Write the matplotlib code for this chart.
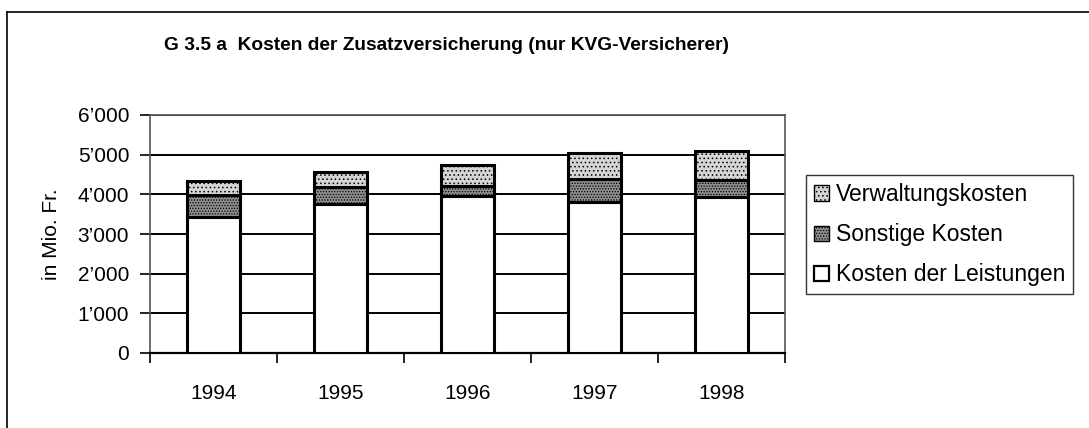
import matplotlib
matplotlib.use("Agg")
import matplotlib.pyplot as plt
from matplotlib.patches import Rectangle
from matplotlib.lines import Line2D
import numpy as np

plt.rcParams['font.family'] = ['Liberation Sans', 'DejaVu Sans']
plt.rcParams['hatch.linewidth'] = 0.6
plt.rcParams['hatch.color'] = '#333333'

years = ["1994", "1995", "1996", "1997", "1998"]
leistungen = [3430, 3750, 3970, 3800, 3945]
sonstige = [560, 430, 250, 590, 420]
verwaltung = [350, 395, 525, 650, 715]
yticks = [0, 1000, 2000, 3000, 4000, 5000, 6000]
ytick_labels = ["0", "1\u2019000", "2\u2019000", "3\u2019000", "4\u2019000", "5\u2019000", "6\u2019000"]
title = "G 3.5 a  Kosten der Zusatzversicherung (nur KVG-Versicherer)"
ylabel = "in Mio. Fr."
legend_labels = ["Verwaltungskosten", "Sonstige Kosten", "Kosten der Leistungen"]

W, H = 1089, 428
fig = plt.figure(figsize=(W / 100, H / 100), dpi=100)
fig.patch.set_facecolor("white")

# outer frame (left and top visible)
fig.add_artist(Line2D([7 / W, 7 / W], [0, 1 - 12 / H], transform=fig.transFigure, color="black", lw=1.2))
fig.add_artist(Line2D([7 / W, 1], [1 - 12 / H, 1 - 12 / H], transform=fig.transFigure, color="black", lw=1.2))

left, right, top, bottom = 150, 785, 115, 353
ax = fig.add_axes([left / W, 1 - bottom / H, (right - left) / W, (bottom - top) / H])

x = np.arange(len(years))
bw = 0.42
c_leis, c_sons, c_verw = "white", "#8e8e8e", "#d4d4d4"
h_sons, h_verw = "......", "...."
ax.bar(x, leistungen, bw, color=c_leis, edgecolor="black", lw=2.2, zorder=3)
ax.bar(x, sonstige, bw, bottom=leistungen, color=c_sons, hatch=h_sons, edgecolor="black", lw=2.2, zorder=3)
bot2 = [a + b for a, b in zip(leistungen, sonstige)]
ax.bar(x, verwaltung, bw, bottom=bot2, color=c_verw, hatch=h_verw, edgecolor="black", lw=2.2, zorder=3)

ax.set_xlim(-0.5, len(years) - 0.5)
ax.set_ylim(0, 6000)
ax.set_yticks(yticks)
ax.set_yticklabels(ytick_labels, fontsize=15)
ax.yaxis.grid(True, color="black", lw=1.4, zorder=0)
ax.set_axisbelow(True)

ax.set_xticks(np.arange(-0.5, len(years), 1.0))
ax.set_xticklabels([])
ax.set_xticks(x, minor=True)
ax.set_xticklabels(years, minor=True, fontsize=15)
ax.tick_params(axis="x", which="minor", length=0, pad=22)
ax.tick_params(axis="x", which="major", length=7, width=1.2, direction="out")
ax.tick_params(axis="y", length=7, width=1.2, direction="out", pad=8)

for s in ["top", "right", "left"]:
    ax.spines[s].set_color("#555555")
    ax.spines[s].set_linestyle((0, (1, 1)))
    ax.spines[s].set_linewidth(1.2)
ax.spines["bottom"].set_color("black")
ax.spines["bottom"].set_linewidth(1.6)

ax.set_ylabel(ylabel, fontsize=15, labelpad=12)

fig.text(447 / W, 1 - 46 / H, title, fontsize=13.8, fontweight="bold", ha="center", va="center")

handles = [
    Rectangle((0, 0), 1, 1, facecolor=c_verw, hatch=h_verw, edgecolor="black", lw=1.0),
    Rectangle((0, 0), 1, 1, facecolor=c_sons, hatch=h_sons, edgecolor="black", lw=1.0),
    Rectangle((0, 0), 1, 1, facecolor=c_leis, edgecolor="black", lw=1.6),
]
leg = fig.legend(handles, legend_labels, loc="upper left",
                 bbox_to_anchor=(806 / W, 1 - 175 / H), fontsize=16.5,
                 frameon=True, fancybox=False, edgecolor="black",
                 handlelength=0.65, handleheight=0.65, handletextpad=0.3,
                 borderpad=0.35, labelspacing=0.75, borderaxespad=0)
leg.get_frame().set_linewidth(1.0)

fig.savefig("out.png", dpi=100)
